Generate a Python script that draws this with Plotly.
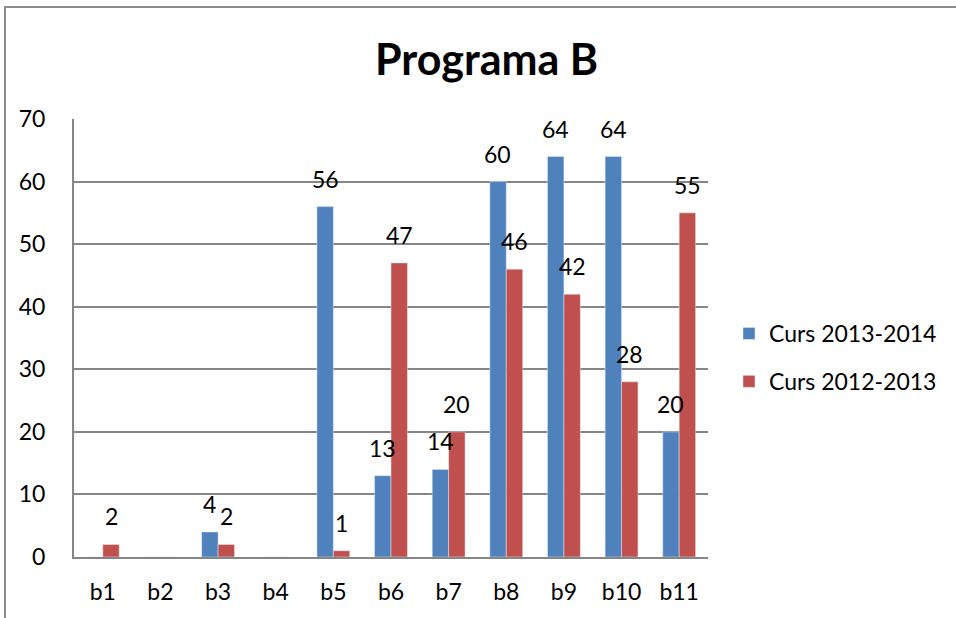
import plotly.graph_objects as go

categories = ["b1", "b2", "b3", "b4", "b5", "b6", "b7", "b8", "b9", "b10", "b11"]
curs_2013_2014 = [0, 0, 4, 0, 56, 13, 14, 60, 64, 64, 20]
curs_2012_2013 = [2, 0, 2, 0, 1, 47, 20, 46, 42, 28, 55]
y_ticks = [0, 10, 20, 30, 40, 50, 60, 70]

FONT = "Lato, Open Sans, sans-serif"
BLUE = "#4F81BD"
RED = "#C0504D"
GRID = "#868686"

# plot area in reference pixels: x 74..708, y 119..557
PL, PR, PT, PB = 74, 708, 119, 557
PW, PH = PR - PL, PB - PT


def px(x):
    return (x - PL) / PW


def py(y):
    return (PB - y) / PH


fig = go.Figure()
fig.add_trace(go.Bar(x=categories, y=curs_2013_2014, name="Curs 2013-2014",
                     marker_color=BLUE, legendgroup="a"))
fig.add_trace(go.Bar(x=categories, y=curs_2012_2013, name="Curs 2012-2013",
                     marker_color=RED, legendgroup="b"))

annotations = []
for series, shift in ((curs_2013_2014, -8.3), (curs_2012_2013, 8.3)):
    for c, v in zip(categories, series):
        if v == 0:
            continue
        annotations.append(dict(x=c, y=v, xref="x", yref="y", text=str(v),
                                showarrow=False, xshift=shift, yshift=28,
                                yanchor="middle",
                                font=dict(family=FONT, size=23, color="black")))

annotations.append(dict(x=px(487), y=py(58), xref="paper", yref="paper",
                        text="<b>Programa B</b>", showarrow=False,
                        xanchor="center", yanchor="middle",
                        font=dict(family=FONT, size=43, color="black")))

fig.update_layout(
    width=956, height=618,
    margin=dict(l=PL, r=956 - PR, t=PT, b=618 - PB),
    paper_bgcolor="white", plot_bgcolor="white",
    barmode="group", bargap=0.43, bargroupgap=0,
    font=dict(family=FONT, size=23, color="black"),
    showlegend=True,
    legend=dict(x=px(729), y=py(312), xanchor="left", yanchor="top",
                font=dict(family=FONT, size=23, color="black"),
                traceorder="grouped", tracegroupgap=15, itemwidth=30,
                bgcolor="rgba(0,0,0,0)"),
    annotations=annotations,
    shapes=[dict(type="rect", xref="paper", yref="paper",
                 x0=px(5), x1=px(990),
                 y0=py(660), y1=py(7),
                 line=dict(color="#8c8c8c", width=2), layer="below")],
)
fig.update_xaxes(showline=True, linecolor=GRID, linewidth=2, ticks="",
                 tickfont=dict(family=FONT, size=23, color="black"),
                 ticklabelstandoff=13, showgrid=False)
fig.update_yaxes(range=[0, 70], tickvals=y_ticks, showline=True, linecolor=GRID, linewidth=2,
                 showgrid=True, gridcolor=GRID, gridwidth=1.5, zeroline=False, ticks="",
                 tickfont=dict(family=FONT, size=23, color="black"),
                 ticklabelstandoff=22)

fig.write_html("out.html", config={"displayModeBar": False},
               post_script="document.body.style.margin='0';")
